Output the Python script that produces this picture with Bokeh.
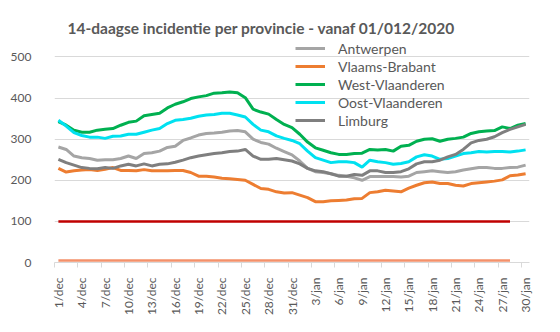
from bokeh.plotting import figure
from bokeh.models import Range1d, FixedTicker, Legend, LegendItem, Title
from bokeh.embed import file_html
from bokeh.resources import INLINE

# ---- data -------------------------------------------------------------
dec_labels = [f"{d}/dec" for d in range(1, 32)]
jan_labels = [f"{d}/jan" for d in range(1, 31)]
date_labels = dec_labels + jan_labels          # 61 days: 1/dec .. 30/jan
days = list(range(len(date_labels)))

antwerpen = [281, 275, 259, 255, 253, 249, 250, 250, 253, 259, 253, 265, 267, 271, 280,
             283, 297, 303, 310, 314, 315, 317, 320, 321, 318, 300, 292, 288, 278, 270,
             262, 247, 229, 221, 219, 216, 212, 210, 206, 200, 209, 209, 209, 209, 208,
             210, 219, 221, 223, 221, 219, 221, 225, 228, 231, 231, 229, 229, 231, 232, 237]
vlaams_brabant = [229, 220, 223, 225, 226, 224, 227, 231, 224, 224, 223, 226, 223, 223, 223,
                  224, 224, 219, 210, 210, 208, 205, 204, 202, 200, 190, 180, 178, 172, 169,
                  170, 164, 158, 148, 148, 150, 151, 152, 155, 156, 170, 172, 176, 174, 172,
                  181, 188, 194, 196, 192, 192, 188, 186, 192, 194, 196, 198, 201, 211, 213, 216]
west_vlaanderen = [343, 334, 322, 317, 317, 322, 324, 326, 334, 341, 344, 357, 360, 363, 376,
                   385, 391, 399, 403, 406, 412, 413, 415, 413, 401, 373, 366, 361, 348, 336,
                   328, 312, 293, 279, 273, 267, 263, 263, 265, 266, 275, 274, 275, 271, 283,
                   285, 295, 300, 301, 295, 300, 302, 305, 314, 318, 320, 321, 330, 326, 334, 338]
oost_vlaanderen = [346, 332, 316, 309, 305, 305, 302, 307, 308, 312, 312, 317, 322, 326, 338,
                   346, 348, 351, 356, 359, 360, 363, 363, 359, 354, 336, 322, 318, 308, 302,
                   297, 289, 271, 255, 249, 243, 245, 245, 243, 232, 249, 245, 243, 239, 241,
                   245, 257, 262, 259, 251, 253, 259, 265, 267, 270, 269, 270, 270, 269, 271, 274]
limburg = [251, 243, 237, 231, 229, 228, 231, 229, 235, 239, 235, 240, 235, 239, 240,
           244, 249, 255, 259, 262, 265, 267, 270, 271, 275, 259, 251, 251, 253, 250,
           247, 240, 229, 223, 221, 216, 210, 210, 214, 212, 223, 223, 219, 219, 221,
           228, 240, 245, 245, 249, 257, 263, 275, 291, 297, 300, 306, 316, 324, 330, 336]

threshold_red = 100
threshold_low = 5
threshold_days = days[:59]      # reference lines run from 1/dec to 28/jan

y_ticks = [0, 100, 200, 300, 400, 500]

series = [
    ("Antwerpen", antwerpen, "#A5A5A5"),
    ("Vlaams-Brabant", vlaams_brabant, "#ED7D31"),
    ("West-Vlaanderen", west_vlaanderen, "#00B050"),
    ("Oost-Vlaanderen", oost_vlaanderen, "#00E1F0"),
    ("Limburg", limburg, "#7F7F7F"),
]

FONT = "Lato"
TXT = "#595959"

# ---- figure -----------------------------------------------------------
# frame reaches above the 500 gridline so that the legend (which sits above it) is not clipped
p = figure(width=560, height=332, output_backend="svg", toolbar_location=None,
           x_range=Range1d(-0.5, len(days) - 0.5), y_range=Range1d(0, 545),
           min_border_left=54, min_border_right=31, min_border_top=38,
           min_border_bottom=70, title=None)
p.outline_line_color = None
p.background_fill_color = "white"
p.border_fill_color = "white"

t = Title(text="14-daagse incidentie per provincie - vanaf 01/012/2020",
          text_font=FONT, text_font_size="15.5px", text_font_style="bold",
          text_color=TXT, align="left", offset=13, standoff=4)
p.add_layout(t, "above")

# axes
p.xgrid.grid_line_color = None
p.ygrid.grid_line_color = "#D9D9D9"
p.ygrid.ticker = FixedTicker(ticks=y_ticks)

p.yaxis.ticker = FixedTicker(ticks=y_ticks)
p.yaxis.axis_line_color = None
p.yaxis.major_tick_line_color = None
p.yaxis.minor_tick_line_color = None
p.yaxis.major_label_standoff = 17
p.yaxis.major_label_text_font = FONT
p.yaxis.major_label_text_font_size = "12px"
p.yaxis.major_label_text_color = TXT

label_idx = days[::3]
p.xaxis.ticker = FixedTicker(ticks=label_idx, minor_ticks=[i - 0.5 for i in label_idx])
p.xaxis.major_label_overrides = {i: date_labels[i] for i in label_idx}
p.xaxis.major_label_orientation = 3.14159265 / 2
p.xaxis.axis_line_color = "#D9D9D9"
p.xaxis.major_tick_line_color = None
p.xaxis.major_tick_out = 0
p.xaxis.major_tick_in = 0
p.xaxis.minor_tick_line_color = "#D9D9D9"
p.xaxis.minor_tick_out = 5
p.xaxis.minor_tick_in = 0
p.xaxis.major_label_standoff = 10
p.xaxis.major_label_text_font = FONT
p.xaxis.major_label_text_font_size = "12px"
p.xaxis.major_label_text_color = TXT

# reference lines
p.line(threshold_days, [threshold_low] * len(threshold_days), line_color="#F4916B", line_width=2.5)
p.line(threshold_days, [threshold_red] * len(threshold_days), line_color="#C00000", line_width=2.5)

renderers = {}
for name, vals, col in series:
    renderers[name] = p.line(days, vals, line_color=col, line_width=3)

items = [LegendItem(label=name, renderers=[renderers[name]]) for name, _, _ in series]

legend = Legend(items=items, location=(241, 133), orientation="vertical",
                glyph_width=30, glyph_height=18, label_height=18, spacing=0,
                padding=0, margin=0, label_standoff=13,
                label_text_font=FONT, label_text_font_size="14px",
                label_text_color=TXT, border_line_color=None,
                background_fill_alpha=0)
p.add_layout(legend, "center")

open("out.html", "w").write(file_html(p, INLINE))
